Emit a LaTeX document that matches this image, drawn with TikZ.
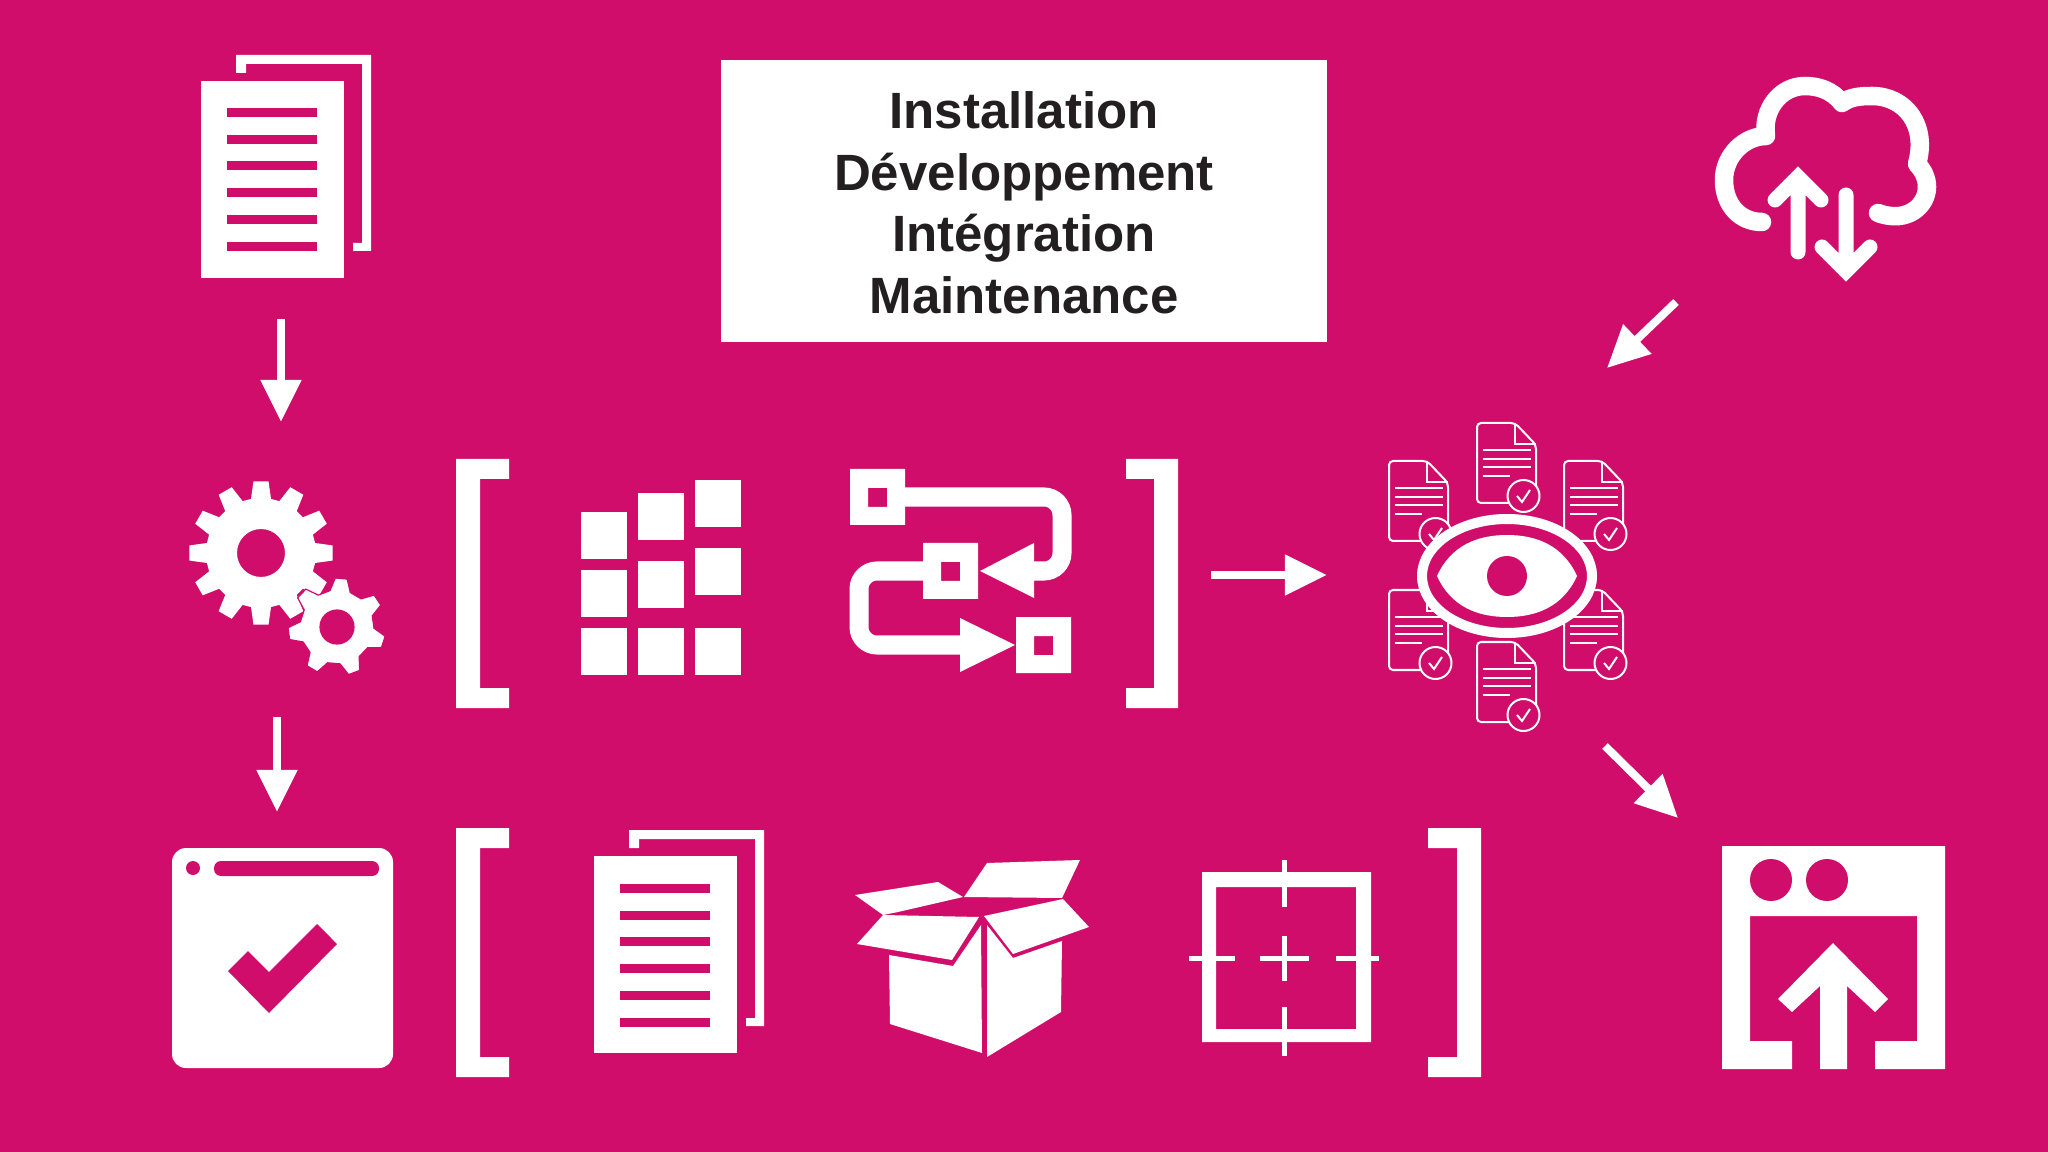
\documentclass[tikz,border=0pt]{standalone}
\usepackage{fontspec}
\setmainfont{Liberation Sans}
\usetikzlibrary{arrows.meta}
\definecolor{pagecol}{HTML}{D00D6B}
\definecolor{inkcol}{HTML}{231F20}
\tikzset{
	flow/.style={->, line width=0.08cm},
	ticks/.style={white, line width=0.05cm},
	sheetline/.style={white, line width=0.02cm},
	gearedge/.style={},
}
% stacked pages, offset from the first one
\newcommand{\pagestack}[2]{
	\begin{scope}[shift={(#1,#2)}]
		\fill[white] (201,81) rectangle (344,278);
		\foreach \yline in {113,140,166,193,220,247}
			\fill[pagecol] (227,\yline-4.5) rectangle (317,\yline+4.5);
		\fill[white] (236,73) -- (236,55) -- (371,55) -- (371,251) -- (353,251) -- (353,243)
			-- (362,243) -- (362,64) -- (246,64) -- (246,73) -- cycle;
	\end{scope}
}
% cx, cy, teeth, start, outer r, root r, hole r, tip half angle, base half angle
\newcommand{\gearwheel}[9]{
	\begin{scope}[shift={(#1,#2)}]
		\fill[white, even odd rule, gearedge]
			({#4-#9}:#6) \foreach \i [evaluate=\i as \a using #4+\i*360/#3] in {1,...,#3} {
				-- ({\a-360/#3-#9}:#6) -- ({\a-360/#3-#8}:#5) -- ({\a-360/#3+#8}:#5) -- ({\a-360/#3+#9}:#6)
			} -- cycle (0,0) circle [radius=#7];
	\end{scope}
}
% little page with its check badge
\newcommand{\checksheet}[2]{
	\begin{scope}[shift={(#1,#2)}]
		\draw[sheetline, rounded corners=0.04cm] (0,0) -- (38,0) -- (59,22) -- (59,80) -- (0,80) -- cycle;
		\draw[sheetline] (38,0) -- (38,21) -- (59,21);
		\foreach \yline in {27,36,44} \draw[sheetline] (5.5,\yline) -- (54,\yline);
		\draw[sheetline] (5.5,53) -- (33,53);
		\draw[sheetline, fill=pagecol] (46.5,73) circle [radius=16];
		\draw[sheetline] (40,73) -- (45,79) -- (53,67);
	\end{scope}
}
\newcommand{\eyelens}[2]{
	(-#1,0) .. controls ({-.8*#1},{-.75*#2}) and ({-.42*#1},-#2) .. (0,-#2)
	.. controls ({.42*#1},-#2) and ({.8*#1},{-.75*#2}) .. (#1,0)
	.. controls ({.8*#1},{.75*#2}) and ({.42*#1},#2) .. (0,#2)
	.. controls ({-.42*#1},#2) and ({-.8*#1},{.75*#2}) .. (-#1,0) -- cycle
}
\begin{document}
\begin{tikzpicture}[x=0.01cm, y=-0.01cm, >={Triangle[length=0.42cm, width=0.39cm]}]
	\useasboundingbox (0,0) rectangle (2048,1152);
	\fill[pagecol] (0,0) rectangle (2048,1152);
	%Titolo
	\fill[white] (721,60) rectangle (1327,342);
	\node (titlebox) [text=inkcol, align=center, font=\bfseries\fontsize{14.5}{17.5}\selectfont] at (1024,203)
		{Installation\\Développement\\Intégration\\Maintenance};
	%Pagine
	\pagestack{0}{0}
	\pagestack{393}{775}
	%Ingranaggi
	\gearwheel{261}{553}{12}{0}{72}{55}{24}{6}{10.5}
	\begin{scope}[gearedge/.style={draw=pagecol, line width=0.012cm}]
		\gearwheel{337}{627}{7}{-85}{49}{37}{17}{7}{16}
	\end{scope}
	%Parentesi
	\foreach \ytop/\ybot in {459/708, 828/1077} {
		\fill[white] (509,\ytop) -- (456,\ytop) -- (456,\ybot) -- (509,\ybot) -- (509,\ybot-20)
			-- (480,\ybot-20) -- (480,\ytop+20) -- (509,\ytop+20) -- cycle;
	}
	\fill[white] (1126,459) -- (1178,459) -- (1178,708) -- (1126,708) -- (1126,688) -- (1154,688) -- (1154,479) -- (1126,479) -- cycle;
	\fill[white] (1428,828) -- (1481,828) -- (1481,1077) -- (1428,1077) -- (1428,1057) -- (1457,1057) -- (1457,848) -- (1428,848) -- cycle;
	%Blocchi
	\foreach \xa/\ya in {581/512, 581/570, 581/628, 638/493, 638/561, 638/628, 695/480, 695/548, 695/628}
		\fill[white] (\xa,\ya) rectangle (\xa+46,\ya+47);
	%Schema di flusso
	\foreach \xa/\ya in {850/469, 923/543, 1016/617}
		\fill[white, even odd rule] (\xa,\ya) rectangle (\xa+55,\ya+56) (\xa+18,\ya+19) rectangle (\xa+37,\ya+38);
	\draw[white, line width=0.19cm, rounded corners=0.18cm] (905,497) -- (1062,497) -- (1062,571) -- (1034,571);
	\fill[white] (1034,543) -- (1034,598) -- (980,571) -- cycle;
	\draw[white, line width=0.19cm, rounded corners=0.18cm] (923,571) -- (859,571) -- (859,645) -- (960,645);
	\fill[white] (960,618) -- (960,672) -- (1015,645) -- cycle;
	%Documenti e occhio
	\foreach \xa/\ya in {1389/461, 1564/461, 1389/590, 1564/590, 1477/423, 1477/642} {
		\checksheet{\xa}{\ya}
	}
	\begin{scope}[shift={(1507,576)}]
		\draw[white, fill=pagecol, line width=0.1cm] (0,0) ellipse [x radius=85, y radius=57];
		\fill[white] \eyelens{70}{41};
		\fill[pagecol] (0,0) circle [radius=20];
	\end{scope}
	%Nuvola
	\draw[white, line width=0.185cm, line cap=round, line join=round] (1878,213)
		.. controls (1908,224) and (1927,205) .. (1927,187)
		.. controls (1927,178) and (1923,170) .. (1917,164)
		.. controls (1928,125) and (1905,96) .. (1872,96)
		.. controls (1860,96) and (1850,97) .. (1842,103)
		.. controls (1832,90) and (1818,86) .. (1805,86)
		.. controls (1780,86) and (1762,110) .. (1766,136)
		.. controls (1745,136) and (1724,155) .. (1724,180)
		.. controls (1724,205) and (1740,222) .. (1762,222);
	\draw[white, line width=0.15cm, line cap=round] (1775,200) -- (1798,177) -- (1821,200) (1798,178) -- (1798,252);
	\draw[white, line width=0.15cm, line cap=round] (1822,247) -- (1846,271) -- (1870,247) (1846,270) -- (1846,195);
	%Finestra con spunta
	\fill[white, rounded corners=0.14cm] (172,848) rectangle (393,1068);
	\fill[pagecol] (193,868) circle [radius=7];
	\fill[pagecol, rounded corners=0.07cm] (214,861) rectangle (379,876);
	\fill[pagecol] (228,971) -- (248,951) -- (269,972) -- (317,924) -- (337,944) -- (269,1013) -- cycle;
	%Scatola
	\fill[white] (987,863) -- (1080,860) -- (1062,898) -- (964,897) -- cycle;
	\fill[white] (855,895) -- (938,882) -- (963,897) -- (898,912) -- (883,915) -- cycle;
	\fill[white] (883,915) -- (979,917) -- (952,960) -- (857,944) -- cycle;
	\fill[white] (984,916) -- (1063,899) -- (1089,927) -- (1013,954) -- cycle;
	\fill[white] (889,955) -- (953,966) -- (981,925) -- (982,1053) -- (890,1024) -- cycle;
	\fill[white] (987,925) -- (1013,958) -- (1062,941) -- (1061,1012) -- (987,1057) -- cycle;
	%Mirino
	\fill[white, even odd rule] (1202,872) rectangle (1371,1042) (1216,887) rectangle (1356,1029);
	\foreach \ya/\yb in {860/907, 936/981, 1007/1056}
		\draw[ticks] (1284,\ya) -- (1284,\yb);
	\foreach \xa/\xb in {1189/1235, 1260/1309, 1336/1379}
		\draw[ticks] (\xa,958) -- (\xb,958);
	%Caricamento
	\fill[white] (1722,846) -- (1945,846) -- (1945,1069) -- (1875,1069) -- (1875,1041) -- (1917,1041) -- (1917,916)
		-- (1750,916) -- (1750,1041) -- (1792,1041) -- (1792,1069) -- (1722,1069) -- cycle;
	\fill[pagecol] (1771,880) circle [radius=21];
	\fill[pagecol] (1827,880) circle [radius=21];
	\fill[white] (1820,1069) -- (1820,986) -- (1792,1012) -- (1778,999) -- (1833,943) -- (1888,999) -- (1875,1012) -- (1847,986) -- (1847,1069) -- cycle;
	%Collegamenti
	\coordinate (pagesout) at (281,319);
	\coordinate (gearsin) at (281,422);
	\coordinate (gearsout) at (277,717);
	\coordinate (windowin) at (277,812);
	\coordinate (bracketout) at (1211,575);
	\coordinate (eyein) at (1327,575);
	\coordinate (cloudout) at (1676,302);
	\coordinate (eyetop) at (1607,368);
	\coordinate (eyeout) at (1605,746);
	\coordinate (uploadin) at (1678,818);
	\draw[flow, white] (pagesout) -- (gearsin);
	\draw[flow, white] (gearsout) -- (windowin);
	\draw[flow, white] (bracketout) -- (eyein);
	\draw[flow, white] (cloudout) -- (eyetop);
	\draw[flow, white] (eyeout) -- (uploadin);
\end{tikzpicture}
\end{document}
